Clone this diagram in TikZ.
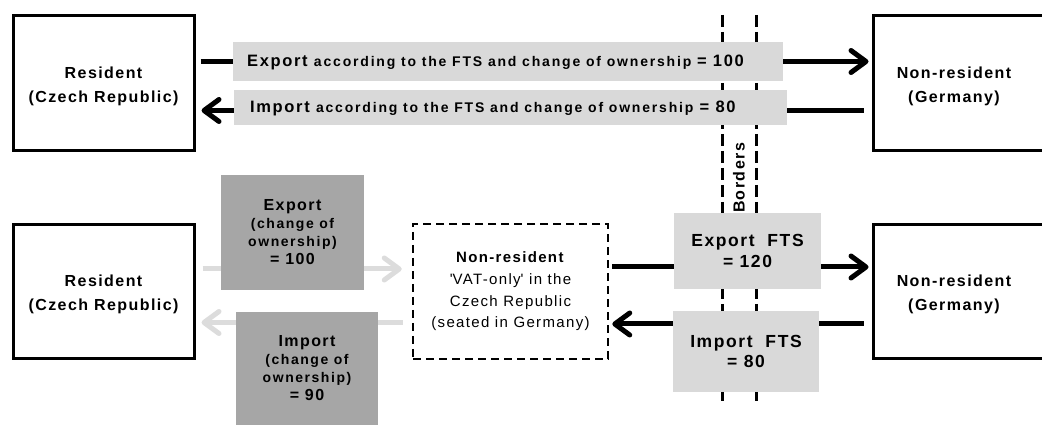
\documentclass[tikz,border=0pt]{standalone}
\usepackage{fontspec}
\setmainfont{Liberation Sans}[LetterSpace=9]
\usetikzlibrary{arrows.meta,positioning}
\definecolor{lgray}{HTML}{D9D9D9}
\definecolor{dgray}{HTML}{A6A6A6}
\definecolor{agray}{HTML}{DCDCDC}
\newcommand{\bigfs}{\fontsize{16.5}{18}\selectfont\addfontfeatures{LetterSpace=10}}
\newcommand{\smallfs}{\fontsize{14}{15}\selectfont\addfontfeatures{LetterSpace=13}}
\begin{document}
\begin{tikzpicture}[x=1pt,y=-1pt,
  party/.style={draw,line width=3pt,inner sep=0pt},
  ptext/.style={font=\fontsize{16}{24}\selectfont\bfseries,align=center,inner sep=0pt},
  vatbox/.style={draw,line width=2.5pt,dash pattern=on 8pt off 5pt,inner sep=0pt,
    font=\fontsize{15}{21.7}\selectfont,align=center},
  lbar/.style={fill=lgray,inner sep=0pt},
  dbox/.style={fill=dgray,inner sep=0pt,align=center,font=\fontsize{16}{18}\selectfont\bfseries},
  ftsbox/.style={fill=lgray,inner sep=0pt,align=center,font=\fontsize{17.5}{20.5}\selectfont\bfseries},
  flow/.style={line width=5pt},
  bflow/.style={flow,black},
  gflow/.style={flow,agray},
  arr/.style={-{Straight Barb[length=15pt,width=22pt,round]}},
  border/.style={line width=3pt,dash pattern=on 12pt off 5pt},
]
\useasboundingbox (0,0) rectangle (1042,427);
\clip (0,0) rectangle (1042,427);
\fill[white] (0,0) rectangle (1042,427);

% borders
\coordinate (b1t) at (722,15); \coordinate (b1b) at (722,403);
\coordinate (b2t) at (756,15); \coordinate (b2b) at (756,403);
\draw[border] (b1t) -- (b1b);
\draw[border] (b2t) -- (b2b);
\node[rotate=90,font=\fontsize{16}{18}\selectfont\bfseries,inner sep=0pt] (btxt) at (739,178) {Borders};

% top row
\node[party,minimum width=181pt,minimum height=135pt] (resT) at (103.5,83.5) {};
\node[ptext] (resTt) at (103.5,86) {Resident\\(Czech Republic)};
\node[party,minimum width=182pt,minimum height=135pt] (nrT) at (964,83.5) {};
\node[ptext] (nrTt) at (954,86) {Non-resident\\(Germany)};

\node[lbar,minimum width=550pt,minimum height=39pt] (expbar) at (508,61.5) {};
\node[lbar,minimum width=553pt,minimum height=35pt] (impbar) at (510.5,107.5) {};
\node[anchor=west,inner sep=0pt,font=\bfseries] (expbart) at (247,62)
  {{\bigfs Export\ }{\smallfs according to the FTS and change of ownership\ }{\bigfs = 100}};
\node[anchor=west,inner sep=0pt,font=\bfseries] (impbart) at (250,108)
  {{\bigfs Import\ }{\smallfs according to the FTS and change of ownership}{\bigfs\ = 80}};

\draw[bflow] ([xshift=5pt]resT.east |- expbar.west) -- (expbar.west);
\draw[bflow,arr] (expbar.east) -- ([xshift=-3pt]nrT.west |- expbar.east);
\draw[bflow] ([xshift=-8pt,yshift=-3pt]nrT.west |- impbar.east) -- ([yshift=-3pt]impbar.east);
\draw[bflow,arr] ([yshift=-3pt]impbar.west) -- ([xshift=6pt,yshift=-3pt]resT.east |- impbar.west);

% bottom row
\node[party,minimum width=181pt,minimum height=134pt] (resB) at (103.5,292) {};
\node[ptext] (resBt) at (103.5,294) {Resident\\(Czech Republic)};
\node[party,minimum width=182pt,minimum height=134pt] (nrB) at (964,292) {};
\node[ptext] (nrBt) at (954,294) {Non-resident\\(Germany)};

\node[vatbox,minimum width=195pt,minimum height=135pt] (vat) at (510.5,291.5)
  {\textbf{Non-resident}\\\textquotesingle VAT-only\textquotesingle{} in the\\Czech Republic\\(seated in Germany)};

\node[dbox,minimum width=143pt,minimum height=115pt] (expD) at (292.5,232.5)
  {Export\\{\fontsize{14}{18}\selectfont\addfontfeatures{LetterSpace=11}(change of}\\{\fontsize{14}{18}\selectfont\addfontfeatures{LetterSpace=11}ownership)}\\= 100};
\node[dbox,minimum width=142pt,minimum height=113pt] (impD) at (307,368.5)
  {Import\\{\fontsize{14}{18}\selectfont\addfontfeatures{LetterSpace=11}(change of}\\{\fontsize{14}{18}\selectfont\addfontfeatures{LetterSpace=11}ownership)}\\= 90};

\node[ftsbox,minimum width=147pt,minimum height=76pt] (expF) at (747.5,251)
  {Export~~FTS\\= 120};
\node[ftsbox,minimum width=146pt,minimum height=81pt] (impF) at (746,351.5)
  {Import~~FTS\\= 80};

% gray flows
\draw[gflow] ([xshift=7pt,yshift=23pt]resB.east) -- ([yshift=23pt]resB.east -| expD.west);
\draw[gflow,arr] ([yshift=23pt]resB.east -| expD.east) -- ([xshift=-10pt,yshift=23pt]resB.east -| vat.west);
\draw[gflow] ([xshift=-9pt,yshift=-31pt]vat.west) -- ([yshift=-31pt]vat.west -| impD.east);
\draw[gflow,arr] ([yshift=-31pt]vat.west -| impD.west) -- ([xshift=6pt,yshift=-31pt]vat.west -| resB.east);

% black flows bottom
\draw[bflow] ([xshift=3pt,yshift=24.5pt]vat.east) -- ([yshift=24.5pt]vat.east -| expF.west);
\draw[bflow,arr] ([yshift=24.5pt]vat.east -| expF.east) -- ([xshift=-3pt,yshift=24.5pt]vat.east -| nrB.west);
\draw[bflow] ([xshift=-8pt,yshift=-32pt]nrB.west) -- ([yshift=-32pt]nrB.west -| impF.east);
\draw[bflow,arr] ([yshift=-32pt]nrB.west -| impF.west) -- ([xshift=3pt,yshift=-32pt]nrB.west -| vat.east);
\end{tikzpicture}
\end{document}
